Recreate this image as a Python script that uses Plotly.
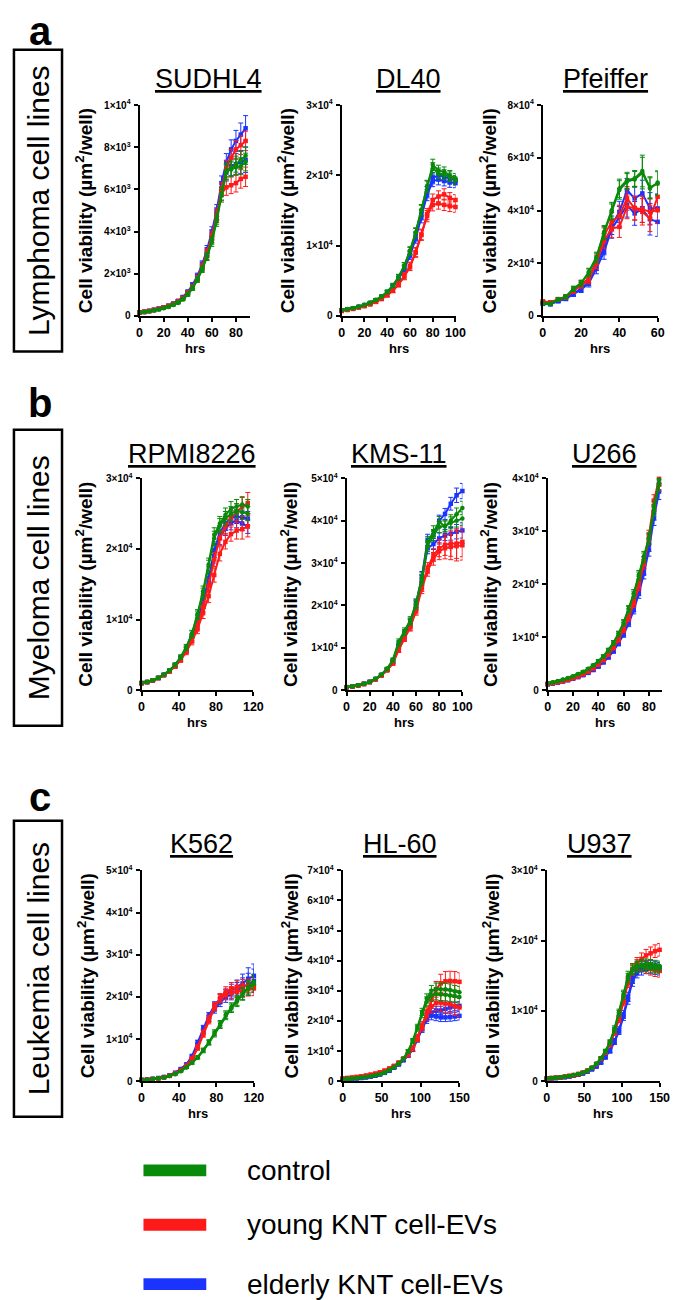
import plotly.graph_objects as go

# ---------------- data ----------------
sudhl4_t = [0, 4, 8, 12, 16, 20, 24, 28, 32, 36, 40, 44, 48, 52, 56, 60, 64, 68, 72, 76, 80, 84, 88]
sudhl4_ctrl1 = [150, 180, 220, 260, 310, 360, 430, 520, 620, 780, 1000, 1300, 1700, 2200, 2800, 3500, 4500, 5700, 6800, 7000, 7200, 7400, 7600]
sudhl4_ctrl2 = [160, 190, 230, 270, 320, 380, 450, 540, 650, 820, 1050, 1350, 1750, 2250, 2850, 3600, 4600, 5800, 6900, 6950, 7050, 7100, 7300]
sudhl4_young1 = [170, 200, 240, 290, 340, 400, 480, 570, 690, 860, 1100, 1400, 1800, 2350, 3000, 3800, 4800, 6000, 7000, 7500, 7900, 8100, 8300]
sudhl4_young2 = [160, 190, 230, 280, 330, 390, 460, 560, 670, 840, 1080, 1380, 1780, 2300, 2950, 3700, 4700, 5800, 6100, 6200, 6300, 6500, 6600]
sudhl4_eld1 = [170, 200, 240, 290, 350, 410, 490, 590, 720, 900, 1150, 1480, 1900, 2450, 3150, 4000, 5000, 6300, 7300, 7900, 8300, 8600, 8900]
sudhl4_eld2 = [160, 190, 230, 280, 330, 390, 470, 570, 690, 870, 1100, 1420, 1850, 2400, 3050, 3850, 4850, 6000, 6800, 7100, 7200, 7300, 7400]
sudhl4_err_ctrl = [20, 20, 25, 25, 30, 30, 35, 40, 50, 60, 70, 90, 110, 140, 170, 200, 250, 300, 350, 350, 380, 400, 420]
sudhl4_err_young = [20, 20, 25, 25, 30, 35, 40, 45, 55, 65, 80, 100, 120, 150, 180, 220, 270, 330, 380, 400, 420, 440, 460]
sudhl4_err_eld = [20, 20, 25, 25, 30, 35, 40, 45, 55, 65, 80, 100, 130, 160, 190, 230, 280, 340, 400, 450, 500, 550, 600]
sudhl4_yticks = [0, 2000, 4000, 6000, 8000, 10000]
sudhl4_ylabels = ["0", "2×10<sup>3</sup>", "4×10<sup>3</sup>", "6×10<sup>3</sup>", "8×10<sup>3</sup>", "1×10<sup>4</sup>"]

dl40_t = [0, 5, 10, 15, 20, 25, 30, 35, 40, 45, 50, 55, 60, 65, 70, 75, 80, 85, 90, 95, 100]
dl40_ctrl1 = [800, 950, 1100, 1300, 1550, 1850, 2250, 2750, 3400, 4300, 5500, 7100, 9200, 11800, 15000, 18500, 21500, 20700, 20500, 20000, 19600]
dl40_ctrl2 = [850, 1000, 1150, 1350, 1600, 1900, 2300, 2800, 3450, 4350, 5550, 7150, 9300, 11900, 15100, 18400, 21000, 20300, 20100, 19800, 19300]
dl40_young1 = [700, 850, 1000, 1200, 1400, 1650, 2000, 2400, 2950, 3600, 4500, 5600, 7000, 9000, 11500, 14500, 16500, 17000, 17300, 16800, 16500]
dl40_young2 = [750, 880, 1030, 1220, 1430, 1680, 2030, 2450, 3000, 3650, 4550, 5700, 7100, 9100, 11600, 14200, 15800, 16000, 15800, 15600, 15500]
dl40_eld1 = [800, 950, 1100, 1300, 1550, 1850, 2250, 2700, 3350, 4200, 5300, 6800, 8800, 11300, 14400, 17600, 19600, 20000, 19800, 19500, 19300]
dl40_eld2 = [780, 930, 1080, 1280, 1530, 1820, 2200, 2650, 3300, 4150, 5250, 6700, 8600, 11000, 14000, 17200, 19200, 19400, 19200, 19000, 18900]
dl40_err_ctrl = [80, 90, 100, 110, 130, 150, 170, 200, 250, 300, 380, 450, 550, 650, 750, 800, 800, 750, 700, 700, 650]
dl40_err_young = [80, 90, 100, 110, 130, 150, 170, 200, 250, 300, 380, 450, 550, 650, 750, 800, 850, 800, 800, 750, 750]
dl40_err_eld = [80, 90, 100, 110, 130, 150, 170, 200, 250, 300, 380, 450, 550, 650, 750, 800, 800, 750, 700, 700, 650]
dl40_yticks = [0, 10000, 20000, 30000]
dl40_ylabels = ["0", "1×10<sup>4</sup>", "2×10<sup>4</sup>", "3×10<sup>4</sup>"]

pf_t = [0, 4, 8, 12, 16, 20, 24, 28, 32, 36, 40, 44, 48, 52, 56, 60]
pf_ctrl1 = [4700, 4500, 6300, 7200, 10400, 12300, 16700, 22400, 31900, 40100, 48400, 51500, 52200, 55000, 48400, 50600]
pf_ctrl2 = [4800, 4700, 6200, 7300, 10200, 12500, 16400, 22000, 31500, 39500, 47800, 51000, 51800, 54200, 48800, 50200]
pf_young1 = [5500, 5200, 6400, 7300, 9700, 12000, 14200, 21100, 30600, 35700, 38000, 44600, 40800, 39500, 37000, 45200]
pf_young2 = [5300, 5000, 6200, 7100, 9500, 11600, 13600, 20000, 28500, 33200, 33800, 41400, 41000, 40500, 39500, 40100]
pf_eld1 = [4800, 4600, 5800, 6800, 8500, 10400, 12900, 19200, 26000, 34400, 39500, 47700, 44600, 46500, 40800, 40800]
pf_eld2 = [4600, 4400, 5600, 6500, 8300, 10000, 12400, 18000, 24300, 33000, 37500, 42000, 38900, 40500, 36700, 35700]
pf_err_ctrl = [500, 500, 600, 700, 900, 1100, 1400, 1800, 2400, 3000, 3500, 3000, 3000, 6000, 4000, 4500]
pf_err_young = [600, 500, 600, 700, 900, 1100, 1400, 2000, 2800, 3500, 4000, 4500, 4500, 5000, 5000, 5000]
pf_err_eld = [500, 500, 600, 700, 900, 1100, 1400, 2000, 2800, 3500, 4000, 4500, 4500, 5000, 6000, 5500]
pf_yticks = [0, 20000, 40000, 60000, 80000]
pf_ylabels = ["0", "2×10<sup>4</sup>", "4×10<sup>4</sup>", "6×10<sup>4</sup>", "8×10<sup>4</sup>"]

rpmi_t = [0, 6, 12, 18, 24, 30, 36, 42, 48, 54, 60, 66, 72, 78, 84, 90, 96, 102, 108, 114]
rpmi_ctrl1 = [1000, 1150, 1400, 1750, 2200, 2800, 3600, 4700, 6100, 8000, 10800, 14000, 17800, 22000, 23600, 24800, 25700, 26000, 26300, 26000]
rpmi_ctrl2 = [1000, 1150, 1400, 1750, 2200, 2800, 3600, 4650, 6000, 7900, 10600, 13700, 17500, 21500, 23300, 24300, 25000, 25400, 25200, 25000]
rpmi_young1 = [1000, 1150, 1380, 1700, 2100, 2650, 3350, 4250, 5400, 6900, 8600, 10900, 13300, 16300, 19300, 21000, 22100, 22600, 22800, 23200]
rpmi_young2 = [1000, 1150, 1380, 1720, 2150, 2700, 3400, 4350, 5600, 7200, 9200, 11800, 14800, 18500, 21500, 23200, 24400, 25200, 26000, 26500]
rpmi_eld1 = [1000, 1150, 1400, 1750, 2200, 2750, 3500, 4500, 5800, 7500, 9700, 12700, 15700, 19800, 22300, 23600, 24400, 24600, 24500, 24300]
rpmi_eld2 = [1000, 1150, 1380, 1720, 2150, 2700, 3450, 4400, 5650, 7300, 9400, 12300, 15200, 19000, 21600, 22900, 23700, 24000, 23600, 23200]
rpmi_err_ctrl = [80, 90, 110, 130, 160, 200, 250, 300, 380, 480, 600, 750, 900, 1000, 1000, 1000, 1000, 1000, 1000, 1000]
rpmi_err_young = [80, 90, 110, 130, 160, 200, 250, 300, 380, 480, 600, 750, 900, 1000, 1000, 1000, 1000, 1200, 1400, 1500]
rpmi_err_eld = [80, 90, 110, 130, 160, 200, 250, 300, 380, 480, 600, 750, 900, 1000, 1000, 1000, 1000, 1000, 1000, 1000]
rpmi_yticks = [0, 10000, 20000, 30000]
rpmi_ylabels = ["0", "1×10<sup>4</sup>", "2×10<sup>4</sup>", "3×10<sup>4</sup>"]

kms_t = [0, 5, 10, 15, 20, 25, 30, 35, 40, 45, 50, 55, 60, 65, 70, 75, 80, 85, 90, 95, 100]
kms_ctrl1 = [700, 900, 1150, 1500, 2000, 2700, 3700, 5100, 7200, 11500, 14000, 16500, 20500, 26500, 35000, 37500, 39700, 38600, 40000, 41500, 43000]
kms_ctrl2 = [700, 900, 1150, 1500, 2000, 2700, 3650, 5000, 7000, 11000, 13600, 16200, 20200, 26000, 34000, 36500, 38500, 38800, 39500, 40000, 40500]
kms_young1 = [700, 880, 1100, 1450, 1900, 2550, 3450, 4700, 6400, 9700, 12400, 15000, 19000, 24500, 28800, 31900, 33500, 34300, 34600, 34600, 35000]
kms_young2 = [700, 880, 1100, 1450, 1900, 2550, 3450, 4700, 6300, 9500, 12200, 14800, 18700, 24000, 28200, 31000, 32800, 33500, 33800, 34000, 34200]
kms_eld1 = [700, 900, 1150, 1500, 1950, 2650, 3600, 4900, 6800, 10500, 13200, 16000, 20500, 26800, 35500, 36600, 40000, 41600, 44000, 46000, 47000]
kms_eld2 = [700, 900, 1150, 1480, 1950, 2600, 3550, 4850, 6700, 10300, 13000, 15800, 20000, 26000, 33500, 34500, 35800, 36600, 36900, 37400, 37700]
kms_err_ctrl = [60, 70, 90, 110, 140, 180, 230, 300, 400, 600, 700, 850, 1000, 1200, 1300, 1300, 1300, 1300, 1400, 1500, 1600]
kms_err_young = [60, 70, 90, 110, 140, 180, 230, 300, 400, 600, 700, 850, 1000, 1200, 1300, 1500, 2000, 2500, 3000, 3500, 3500]
kms_err_eld = [60, 70, 90, 110, 140, 180, 230, 300, 400, 600, 700, 850, 1000, 1200, 1300, 1300, 1300, 1300, 1500, 1700, 1800]
kms_yticks = [0, 10000, 20000, 30000, 40000, 50000]
kms_ylabels = ["0", "1×10<sup>4</sup>", "2×10<sup>4</sup>", "3×10<sup>4</sup>", "4×10<sup>4</sup>", "5×10<sup>4</sup>"]

u266_t = [0, 4, 8, 12, 16, 20, 24, 28, 32, 36, 40, 44, 48, 52, 56, 60, 64, 68, 72, 76, 80, 84, 88]
u266_ctrl1 = [1300, 1500, 1750, 2000, 2300, 2650, 3050, 3500, 4050, 4700, 5500, 6400, 7600, 9000, 10700, 12800, 15400, 18300, 21800, 25300, 28800, 34500, 39800]
u266_ctrl2 = [1250, 1450, 1700, 1950, 2250, 2600, 3000, 3450, 4000, 4650, 5450, 6350, 7500, 8900, 10600, 12700, 15200, 18000, 21500, 25000, 28500, 34000, 39000]
u266_young1 = [1200, 1350, 1550, 1750, 2000, 2300, 2650, 3050, 3550, 4150, 4900, 5750, 6800, 8100, 9700, 11600, 13900, 16700, 20000, 24300, 29200, 35800, 39900]
u266_young2 = [1150, 1300, 1500, 1700, 1950, 2250, 2600, 3000, 3500, 4100, 4800, 5650, 6700, 8000, 9500, 11400, 13600, 16300, 19600, 23800, 28500, 34800, 38800]
u266_eld1 = [1150, 1300, 1480, 1700, 1930, 2200, 2520, 2900, 3350, 3900, 4550, 5350, 6300, 7500, 8950, 10700, 12900, 15500, 18700, 22800, 27400, 33500, 39000]
u266_eld2 = [1100, 1250, 1430, 1650, 1880, 2150, 2460, 2830, 3270, 3800, 4450, 5250, 6200, 7350, 8800, 10500, 12600, 15100, 18200, 22000, 26500, 32500, 37500]
u266_err_ctrl = [80, 80, 90, 100, 110, 120, 140, 160, 180, 210, 240, 280, 330, 380, 440, 510, 600, 700, 800, 900, 1000, 1100, 1200]
u266_err_young = [80, 80, 90, 100, 110, 120, 140, 160, 180, 210, 240, 280, 330, 380, 440, 510, 600, 700, 800, 900, 1000, 1100, 1200]
u266_err_eld = [80, 80, 90, 100, 110, 120, 140, 160, 180, 210, 240, 280, 330, 380, 440, 510, 600, 700, 850, 1000, 1200, 1400, 1500]
u266_yticks = [0, 10000, 20000, 30000, 40000]
u266_ylabels = ["0", "1×10<sup>4</sup>", "2×10<sup>4</sup>", "3×10<sup>4</sup>", "4×10<sup>4</sup>"]

k562_t = [0, 6, 12, 18, 24, 30, 36, 42, 48, 54, 60, 66, 72, 78, 84, 90, 96, 102, 108, 114, 120]
k562_ctrl1 = [300, 380, 500, 680, 900, 1230, 1700, 2400, 3300, 4400, 5700, 7400, 9300, 11500, 13600, 15800, 17600, 19200, 20800, 22300, 23500]
k562_ctrl2 = [300, 380, 500, 680, 900, 1220, 1680, 2350, 3250, 4300, 5600, 7200, 9100, 11200, 13300, 15500, 17300, 18900, 20600, 22000, 23000]
k562_young1 = [300, 380, 500, 700, 950, 1300, 1850, 2650, 3700, 5400, 8200, 11600, 14900, 17800, 19600, 20500, 21000, 21300, 21500, 21800, 22000]
k562_young2 = [300, 380, 500, 690, 930, 1280, 1800, 2600, 3600, 5200, 7800, 11000, 14300, 17500, 19800, 21200, 22000, 22300, 22500, 22600, 22800]
k562_eld1 = [300, 400, 550, 750, 1000, 1400, 2000, 2900, 4000, 6000, 9300, 12700, 15600, 18000, 19500, 20700, 21500, 22200, 23200, 24300, 25000]
k562_eld2 = [300, 400, 540, 730, 980, 1370, 1950, 2800, 3900, 5700, 8700, 11900, 14800, 17000, 18700, 19900, 20800, 21600, 22300, 23000, 23800]
k562_err_ctrl = [40, 40, 50, 60, 80, 100, 130, 170, 220, 280, 350, 450, 550, 700, 800, 900, 1000, 1200, 1400, 1600, 1800]
k562_err_young = [40, 40, 50, 60, 80, 100, 130, 170, 220, 300, 400, 550, 700, 850, 1000, 1200, 1400, 1500, 1600, 1600, 1700]
k562_err_eld = [40, 40, 50, 60, 80, 100, 130, 170, 220, 300, 400, 550, 700, 850, 1000, 1200, 1500, 1800, 2200, 2600, 2800]
k562_yticks = [0, 10000, 20000, 30000, 40000, 50000]
k562_ylabels = ["0", "1×10<sup>4</sup>", "2×10<sup>4</sup>", "3×10<sup>4</sup>", "4×10<sup>4</sup>", "5×10<sup>4</sup>"]

hl60_t = [0, 6, 12, 18, 24, 30, 36, 42, 48, 54, 60, 66, 72, 78, 84, 90, 96, 102, 108, 114, 120, 126, 132, 138, 144, 150]
hl60_ctrl1 = [700, 800, 900, 1050, 1200, 1400, 1650, 1950, 2350, 2900, 3700, 4700, 5900, 7500, 10000, 13500, 18000, 23000, 27500, 30000, 30600, 30500, 30500, 30300, 29800, 29500]
hl60_ctrl2 = [700, 800, 900, 1050, 1200, 1400, 1650, 1950, 2350, 2900, 3700, 4650, 5800, 7400, 9800, 13200, 17500, 22300, 26500, 28500, 29000, 28800, 28700, 28500, 28300, 28000]
hl60_young1 = [900, 1050, 1200, 1400, 1600, 1850, 2150, 2500, 2950, 3500, 4200, 5100, 6200, 7500, 8800, 11000, 14500, 18500, 23000, 27000, 30500, 32500, 33200, 33300, 33200, 33000]
hl60_young2 = [900, 1050, 1200, 1400, 1600, 1850, 2150, 2500, 2950, 3500, 4200, 5000, 6100, 7400, 8700, 10800, 14200, 18000, 22000, 24800, 26000, 26100, 25800, 25600, 25000, 24500]
hl60_eld1 = [600, 700, 800, 950, 1100, 1300, 1550, 1850, 2250, 2800, 3500, 4500, 5600, 7000, 8500, 10500, 13800, 17300, 20500, 21800, 21500, 21200, 21200, 21300, 21500, 21700]
hl60_eld2 = [600, 700, 800, 950, 1100, 1300, 1550, 1850, 2250, 2800, 3500, 4500, 5600, 7000, 8500, 10600, 14000, 17800, 21200, 22800, 23500, 23500, 24000, 24500, 24800, 25000]
hl60_err_ctrl = [60, 60, 70, 80, 90, 100, 120, 140, 160, 190, 220, 270, 330, 400, 500, 700, 900, 1200, 1500, 1800, 2000, 2000, 2000, 2000, 2000, 2000]
hl60_err_young = [80, 80, 90, 100, 110, 120, 140, 160, 190, 220, 260, 310, 380, 460, 560, 750, 1000, 1300, 1700, 2200, 2600, 3000, 3200, 3200, 3200, 3000]
hl60_err_eld = [50, 50, 60, 70, 80, 100, 120, 140, 160, 190, 220, 270, 330, 400, 500, 650, 850, 1100, 1300, 1400, 1400, 1400, 1400, 1400, 1400, 1400]
hl60_yticks = [0, 10000, 20000, 30000, 40000, 50000, 60000, 70000]
hl60_ylabels = ["0", "1×10<sup>4</sup>", "2×10<sup>4</sup>", "3×10<sup>4</sup>", "4×10<sup>4</sup>",
                "5×10<sup>4</sup>", "6×10<sup>4</sup>", "7×10<sup>4</sup>"]

u937_t = [0, 6, 12, 18, 24, 30, 36, 42, 48, 54, 60, 66, 72, 78, 84, 90, 96, 102, 108, 114, 120, 126, 132, 138, 144, 150]
u937_ctrl1 = [400, 450, 500, 570, 650, 750, 870, 1020, 1220, 1500, 1900, 2500, 3300, 4300, 5600, 7500, 9800, 12400, 15000, 16000, 16400, 16600, 16700, 16600, 16500, 16400]
u937_ctrl2 = [400, 450, 500, 570, 650, 750, 870, 1020, 1220, 1500, 1900, 2500, 3250, 4250, 5500, 7300, 9600, 12200, 14700, 15800, 16200, 16400, 16300, 16200, 16100, 16000]
u937_young1 = [400, 450, 500, 570, 650, 750, 870, 1020, 1220, 1500, 1900, 2450, 3200, 4100, 5300, 7000, 9000, 11500, 14200, 16000, 16800, 17400, 17900, 18200, 18500, 18700]
u937_young2 = [400, 450, 500, 570, 650, 750, 870, 1020, 1220, 1500, 1900, 2450, 3150, 4050, 5200, 6900, 8800, 11300, 14000, 15800, 16500, 16500, 16200, 16000, 15800, 15700]
u937_eld1 = [350, 400, 450, 510, 580, 670, 780, 920, 1100, 1350, 1700, 2100, 2700, 3500, 4400, 5700, 7300, 9500, 12000, 14600, 15800, 16300, 16500, 16500, 16300, 16200]
u937_eld2 = [350, 400, 450, 510, 580, 670, 780, 920, 1100, 1350, 1700, 2100, 2650, 3400, 4300, 5600, 7100, 9200, 11600, 14200, 15400, 15800, 16000, 16000, 15900, 15800]
u937_err_ctrl = [30, 30, 35, 40, 45, 50, 60, 70, 80, 100, 120, 150, 200, 250, 300, 380, 450, 550, 650, 700, 700, 700, 700, 700, 700, 700]
u937_err_young = [30, 30, 35, 40, 45, 50, 60, 70, 80, 100, 120, 150, 200, 250, 300, 380, 450, 550, 650, 750, 800, 850, 850, 900, 900, 900]
u937_err_eld = [30, 30, 35, 40, 45, 50, 60, 70, 80, 100, 120, 150, 200, 250, 300, 380, 450, 550, 650, 700, 700, 700, 700, 700, 700, 700]
u937_yticks = [0, 10000, 20000, 30000]
u937_ylabels = ["0", "1×10<sup>4</sup>", "2×10<sup>4</sup>", "3×10<sup>4</sup>"]

group_names = ["control", "young KNT cell-EVs", "elderly KNT cell-EVs"]
row_labels = ["Lymphoma cell lines", "Myeloma cell lines", "Leukemia cell lines"]
row_letters = ["a", "b", "c"]

# ---------------- layout helpers (pixel -> paper) ----------------
W, H = 693, 1300
FONT = "Liberation Sans, Arial, sans-serif"
GREEN, RED, BLUE = "#0a8a0a", "#ff1a1a", "#1a33ff"


def fx(x):
    return x / W


def fy(y):
    return 1 - y / H


# rows: (plot top, plot bottom, title y, box top, box bottom, letter y)
rows = [
    (91, 304, 65, 35, 340, 16),
    (468, 682, 443, 419, 718, 392),
    (864, 1077, 837, 814, 1113, 790),
]

panels = [
    # name, row, x0, x1, xmax, dtick, ytitle_x, title_x, t, series, errors, yticks, ylabels
    ("SUDHL4", 0, 131, 244, 92, 20, 74, 201, sudhl4_t,
     (sudhl4_ctrl1, sudhl4_ctrl2, sudhl4_young1, sudhl4_young2, sudhl4_eld1, sudhl4_eld2),
     (sudhl4_err_ctrl, sudhl4_err_young, sudhl4_err_eld), sudhl4_yticks, sudhl4_ylabels),
    ("DL40", 0, 337, 453, 100, 20, 280, 405, dl40_t,
     (dl40_ctrl1, dl40_ctrl2, dl40_young1, dl40_young2, dl40_eld1, dl40_eld2),
     (dl40_err_ctrl, dl40_err_young, dl40_err_eld), dl40_yticks, dl40_ylabels),
    ("Pfeiffer", 0, 542, 659, 60, 20, 486, 606, pf_t,
     (pf_ctrl1, pf_ctrl2, pf_young1, pf_young2, pf_eld1, pf_eld2),
     (pf_err_ctrl, pf_err_young, pf_err_eld), pf_yticks, pf_ylabels),
    ("RPMI8226", 1, 133, 247, 120, 40, 75, 184, rpmi_t,
     (rpmi_ctrl1, rpmi_ctrl2, rpmi_young1, rpmi_young2, rpmi_eld1, rpmi_eld2),
     (rpmi_err_ctrl, rpmi_err_young, rpmi_err_eld), rpmi_yticks, rpmi_ylabels),
    ("KMS-11", 1, 342, 460, 100, 20, 284, 395, kms_t,
     (kms_ctrl1, kms_ctrl2, kms_young1, kms_young2, kms_eld1, kms_eld2),
     (kms_err_ctrl, kms_err_young, kms_err_eld), kms_yticks, kms_ylabels),
    ("U266", 1, 547, 663, 90, 20, 487, 605, u266_t,
     (u266_ctrl1, u266_ctrl2, u266_young1, u266_young2, u266_eld1, u266_eld2),
     (u266_err_ctrl, u266_err_young, u266_err_eld), u266_yticks, u266_ylabels),
    ("K562", 2, 133, 247.5, 120, 40, 76, 194, k562_t,
     (k562_ctrl1, k562_ctrl2, k562_young1, k562_young2, k562_eld1, k562_eld2),
     (k562_err_ctrl, k562_err_young, k562_err_eld), k562_yticks, k562_ylabels),
    ("HL-60", 2, 338, 457, 150, 50, 284, 396, hl60_t,
     (hl60_ctrl1, hl60_ctrl2, hl60_young1, hl60_young2, hl60_eld1, hl60_eld2),
     (hl60_err_ctrl, hl60_err_young, hl60_err_eld), hl60_yticks, hl60_ylabels),
    ("U937", 2, 546, 661, 150, 50, 489, 600, u937_t,
     (u937_ctrl1, u937_ctrl2, u937_young1, u937_young2, u937_eld1, u937_eld2),
     (u937_err_ctrl, u937_err_young, u937_err_eld), u937_yticks, u937_ylabels),
]

fig = go.Figure()
annotations = []
shapes = []

for i, (name, r, x0, x1, xmax, dtick, ytx, ttx, t, ser, errs, ytv, ytt) in enumerate(panels):
    top, bot, title_y = rows[r][0], rows[r][1], rows[r][2]
    n = i + 1
    xa = "x" if n == 1 else f"x{n}"
    ya = "y" if n == 1 else f"y{n}"
    axis_common = dict(showline=True, linecolor="black", linewidth=2, ticks="outside",
                       ticklen=4, tickwidth=1.5, tickcolor="black", showgrid=False,
                       zeroline=False, fixedrange=True)
    fig.layout[f"xaxis{'' if n == 1 else n}"] = dict(
        axis_common, domain=[fx(x0), fx(x1)], range=[0, xmax], dtick=dtick, tick0=0,
        anchor=ya, ticklabelstandoff=0,
        tickfont=dict(family=FONT, size=12.5, color="black", weight="bold"))
    fig.layout[f"yaxis{'' if n == 1 else n}"] = dict(
        axis_common, domain=[fy(bot), fy(top)], range=[0, ytv[-1]], tickvals=ytv,
        ticktext=ytt, anchor=xa, ticklabelstandoff=1,
        tickfont=dict(family=FONT, size=10, color="black", weight="bold"))

    # draw order: elderly, young, control (control on top)
    order = [(ser[4], errs[2], BLUE, "square"), (ser[5], errs[2], BLUE, "square"),
             (ser[2], errs[1], RED, "square"), (ser[3], errs[1], RED, "square"),
             (ser[0], errs[0], GREEN, "circle"), (ser[1], errs[0], GREEN, "circle")]
    for vals, err, col, sym in order:
        fig.add_trace(go.Scatter(
            x=t, y=vals, xaxis=xa, yaxis=ya, mode="lines+markers", showlegend=False,
            line=dict(color=col, width=2), marker=dict(color=col, size=4.5, symbol=sym),
            error_y=dict(type="data", array=err, visible=True, color=col, thickness=1, width=2.5),
            cliponaxis=False, hoverinfo="skip"))

    cx = (x0 + x1) / 2
    annotations.append(dict(text=f"<u>{name}</u>", x=fx(ttx), y=fy(title_y), xref="paper", yref="paper",
                            showarrow=False, xanchor="center", yanchor="middle",
                            font=dict(family=FONT, size=27, color="black")))
    annotations.append(dict(text="Cell viability (µm<sup>2</sup>/well)", textangle=-90,
                            x=fx(ytx), y=fy((top + bot) / 2), xref="paper", yref="paper",
                            showarrow=False, xanchor="center", yanchor="middle",
                            font=dict(family=FONT, size=19, color="black", weight="bold")))
    annotations.append(dict(text="hrs", x=fx(cx), y=fy(bot + 33), xref="paper", yref="paper",
                            showarrow=False, xanchor="center", yanchor="middle",
                            font=dict(family=FONT, size=13, color="black", weight="bold")))

# row boxes, row labels and panel letters
for r, (top, bot, title_y, btop, bbot, ly) in enumerate(rows):
    shapes.append(dict(type="rect", xref="paper", yref="paper", x0=fx(3), x1=fx(52),
                       y0=fy(bbot), y1=fy(btop), line=dict(color="black", width=2.5)))
    annotations.append(dict(text=row_labels[r], textangle=-90, x=fx(28), y=fy((btop + bbot) / 2),
                            xref="paper", yref="paper", showarrow=False, xanchor="center",
                            yanchor="middle", font=dict(family=FONT, size=30, color="black")))
    annotations.append(dict(text=row_letters[r], x=fx(30), y=fy(ly), xref="paper", yref="paper",
                            showarrow=False, xanchor="center", yanchor="middle",
                            font=dict(family=FONT, size=40, color="black", weight="bold")))

# legend drawn by hand
legend_rows = [(1167, GREEN), (1222, RED), (1282, BLUE)]
for (yc, col), label in zip(legend_rows, group_names):
    shapes.append(dict(type="rect", xref="paper", yref="paper", x0=fx(135), x1=fx(199),
                       y0=fy(yc + 6), y1=fy(yc - 6), line=dict(width=0), fillcolor=col))
    annotations.append(dict(text=label, x=fx(238), y=fy(yc), xref="paper", yref="paper",
                            showarrow=False, xanchor="left", yanchor="middle",
                            font=dict(family=FONT, size=28, color="black")))

fig.update_layout(width=W, height=H, margin=dict(l=0, r=0, t=0, b=0),
                  paper_bgcolor="white", plot_bgcolor="white",
                  annotations=annotations, shapes=shapes, showlegend=False)

fig.write_html("out.html")
